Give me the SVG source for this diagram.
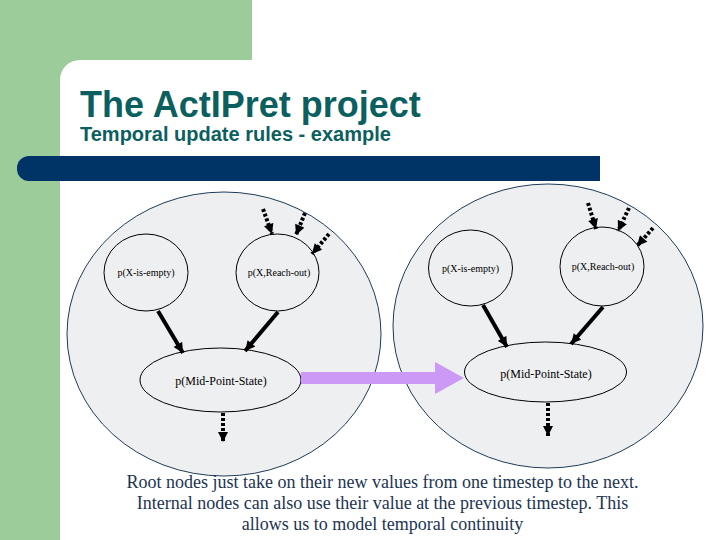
<svg xmlns="http://www.w3.org/2000/svg" width="720" height="540" viewBox="0 0 720 540">
<defs>
<style>
.bg{fill:#9dcc9b}
.title{font-family:"Liberation Sans",Arial,sans-serif;font-weight:bold;fill:#0b5f5e}
.big{fill:#eeeff1;stroke:#1f3b57;stroke-width:1}
.node{fill:#eeeff1;stroke:#000;stroke-width:1}
.lbl{font-family:"Liberation Serif","Times New Roman",serif;fill:#000;text-anchor:middle}
.solid{stroke:#000;stroke-width:4;fill:none;marker-end:url(#ah)}
.dash{stroke:#000;stroke-width:4;fill:none;stroke-dasharray:3 2;marker-end:url(#ah)}
.body{font-family:"Liberation Serif","Times New Roman",serif;font-size:18px;fill:#1c3452;text-anchor:middle}
</style>
<marker id="ah" viewBox="0 0 10 10" refX="10" refY="5" markerWidth="11" markerHeight="10" markerUnits="userSpaceOnUse" orient="auto">
<path d="M0,0 L10,5 L0,10 z" fill="#000"/>
</marker>
</defs>
<rect width="720" height="540" fill="#fff"/>
<g id="background">
<rect class="bg" x="0" y="0" width="252" height="60"/>
<rect class="bg" x="0" y="0" width="60" height="540"/>
<path d="M60,60 L80,60 A20,20 0 0 0 60,80 Z" class="bg"/>
<rect x="17" y="156" width="583" height="25" rx="12" ry="12" fill="#003366"/>
<rect x="40" y="156" width="560" height="25" fill="#003366"/>
</g>
<g id="title">
<text class="title" x="80" y="117" font-size="36">The ActIPret project</text>
<text class="title" x="80" y="141" font-size="20">Temporal update rules - example</text>
</g>
<g id="timestep1">
<ellipse class="big" cx="224" cy="334" rx="157" ry="142"/>
</g>
<g id="timestep2">
<ellipse class="big" cx="548" cy="326" rx="155" ry="142"/>
</g>
<g id="node-empty-1">
<ellipse class="node" cx="146" cy="272.5" rx="42" ry="38.5"/>
<text class="lbl" x="146" y="276" font-size="10">p(X-is-empty)</text>
</g>
<g id="node-reach-1">
<ellipse class="node" cx="277.5" cy="272.5" rx="41.5" ry="38.5"/>
<text class="lbl" x="279" y="276" font-size="10">p(X,Reach-out)</text>
</g>
<g id="node-mid-1">
<ellipse class="node" cx="220.5" cy="380" rx="80.5" ry="32"/>
<text class="lbl" x="221" y="385" font-size="12">p(Mid-Point-State)</text>
</g>
<g id="node-empty-2">
<ellipse class="node" cx="470.5" cy="268" rx="42" ry="38"/>
<text class="lbl" x="470.5" y="272" font-size="10">p(X-is-empty)</text>
</g>
<g id="node-reach-2">
<ellipse class="node" cx="602" cy="266.5" rx="42" ry="39.5"/>
<text class="lbl" x="603" y="270" font-size="10">p(X,Reach-out)</text>
</g>
<g id="node-mid-2">
<ellipse class="node" cx="545.5" cy="372" rx="81" ry="30"/>
<text class="lbl" x="546" y="378" font-size="12">p(Mid-Point-State)</text>
</g>
<g id="connectors">
<line class="solid" x1="158" y1="311" x2="183" y2="353"/>
<line class="solid" x1="278" y1="312" x2="245" y2="351"/>
<line class="solid" x1="483" y1="305" x2="507" y2="347"/>
<line class="solid" x1="603" y1="307" x2="571" y2="344"/>
<line class="dash" x1="263" y1="209" x2="272" y2="234"/>
<line class="dash" x1="305" y1="213" x2="296" y2="235"/>
<line class="dash" x1="329" y1="234" x2="312" y2="254"/>
<line class="dash" x1="223" y1="413" x2="223" y2="442"/>
<line class="dash" x1="588" y1="203" x2="596" y2="229"/>
<line class="dash" x1="629" y1="208" x2="618" y2="231"/>
<line class="dash" x1="653" y1="228" x2="637" y2="246"/>
<line class="dash" x1="548" y1="403" x2="548" y2="436"/>
<polygon points="301,372 435,372 435,362 464,378 435,394 435,384 301,384" fill="#cc99f6"/>
</g>
<g id="caption">
<text class="body" x="382.5" y="488">Root nodes just take on their new values from one timestep to the next.</text>
<text class="body" x="382.5" y="509">Internal nodes can also use their value at the previous timestep. This</text>
<text class="body" x="382.5" y="530">allows us to model temporal continuity</text>
</g>
</svg>
